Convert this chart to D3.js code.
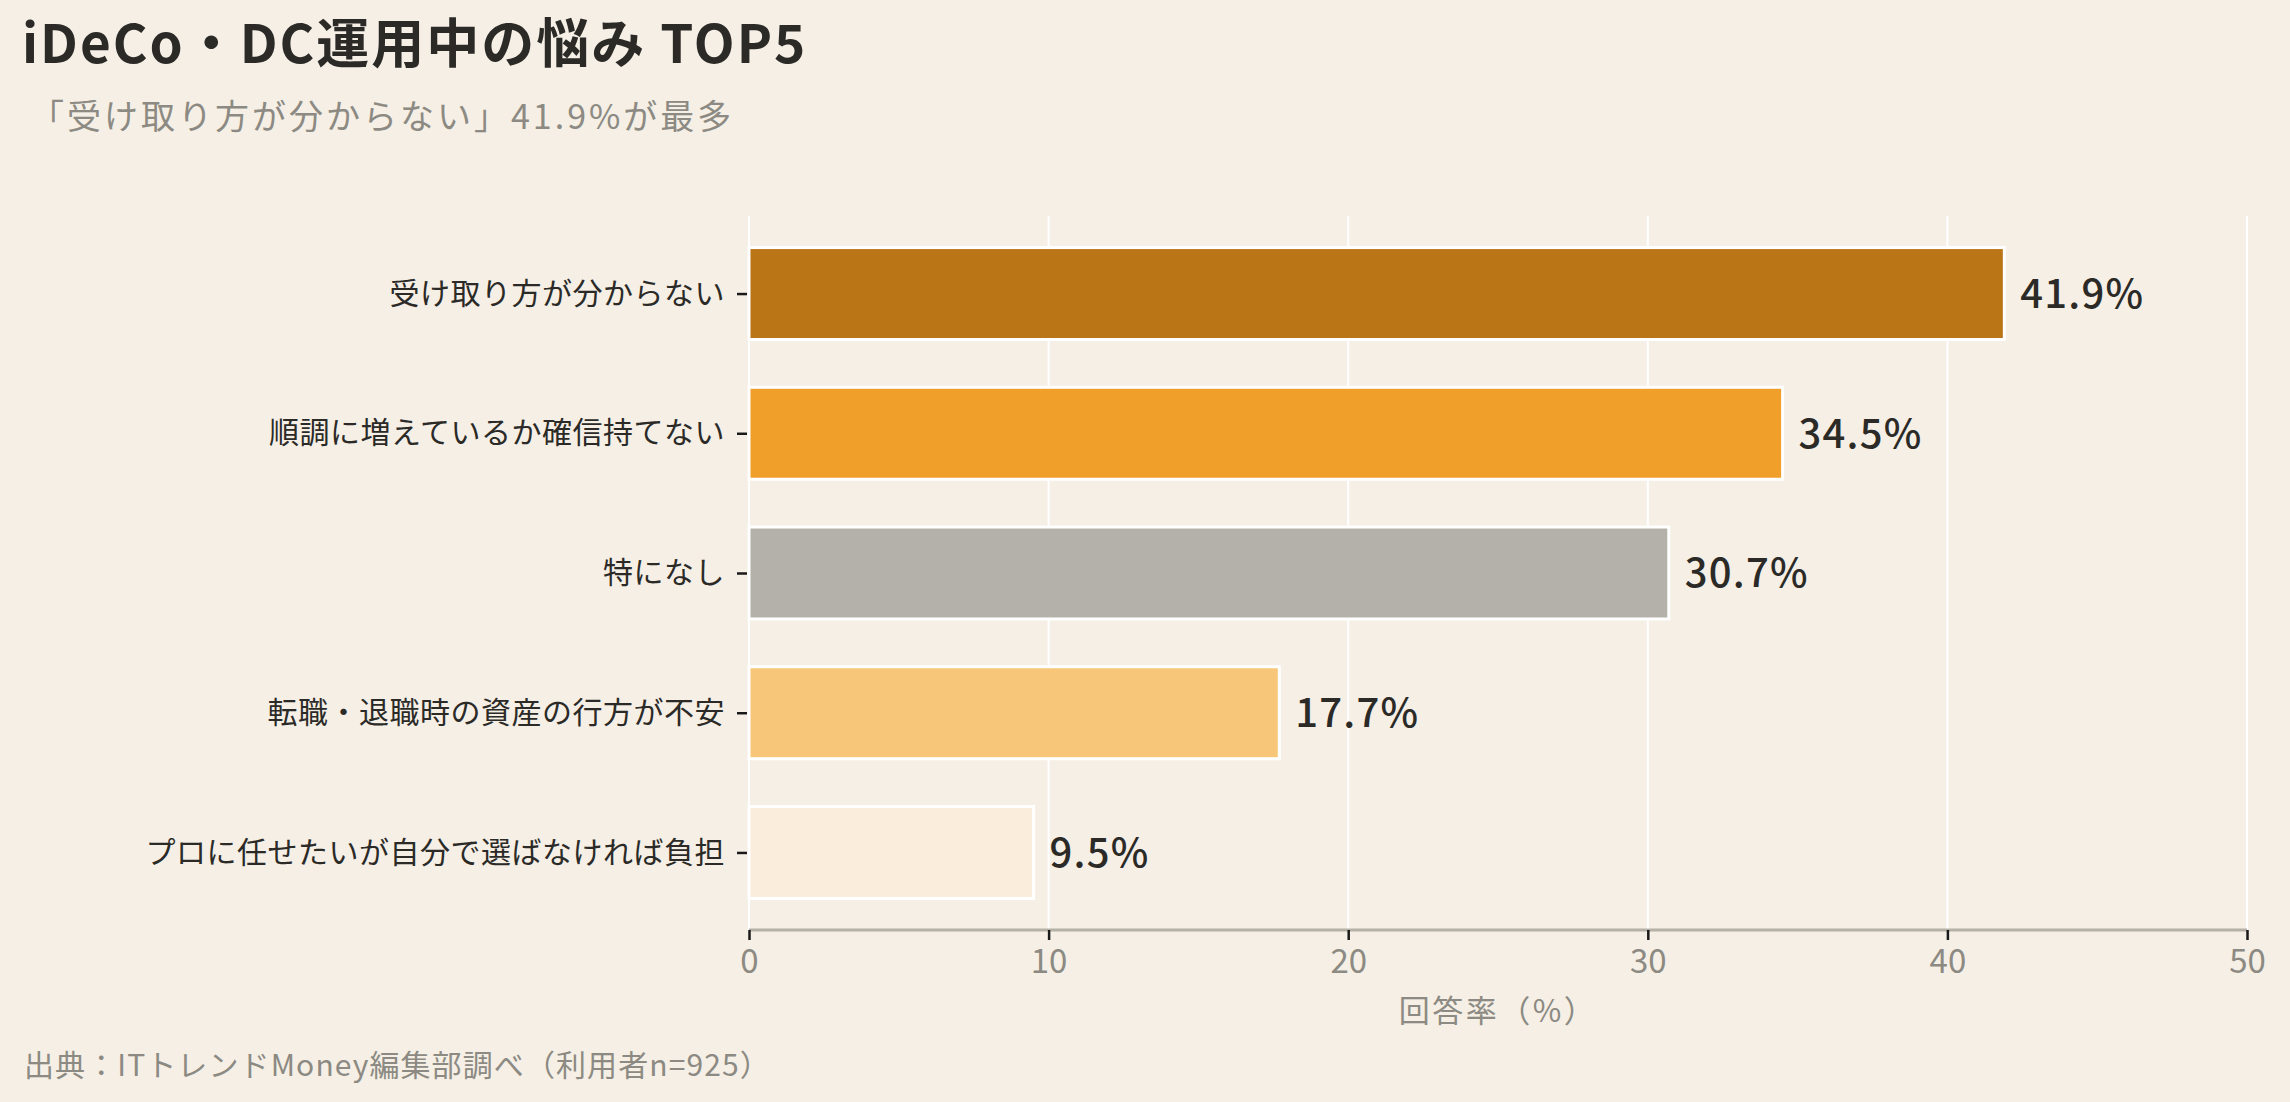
<!DOCTYPE html>
<html>
<head>
<meta charset="utf-8">
<script src="https://cdn.jsdelivr.net/npm/d3@7"></script>
<style>
  body { margin: 0; background: #F5EFE6; }
  svg { display: block; font-family: "Noto Sans CJK JP", "Noto Sans", sans-serif; }
</style>
</head>
<body>
<div id="chart"></div>
<script>
const SVG_WIDTH = 2290;
const SVG_HEIGHT = 1102;
const PANEL = { left: 749, right: 2247, top: 216, bottom: 930 };

const TITLE = "iDeCo・DC運用中の悩み TOP5";
const SUBTITLE = "「受け取り方が分からない」41.9%が最多";
const CAPTION = "出典：ITトレンドMoney編集部調べ（利用者n=925）";
const X_AXIS_LABEL = "回答率（%）";

const categories = [
    "受け取り方が分からない",
    "順調に増えているか確信持てない",
    "特になし",
    "転職・退職時の資産の行方が不安",
    "プロに任せたいが自分で選ばなければ負担"
];
const values = [41.9, 34.5, 30.7, 17.7, 9.5];
const barColors = ["#B97516", "#EF9F2A", "#B4B1AA", "#F8C679", "#FAEDDB"];
const xTicks = [0, 10, 20, 30, 40, 50];

const data = categories.map((c, i) => ({ category: c, value: values[i], color: barColors[i] }));

const svg = d3.select("#chart")
    .append("svg")
    .attr("width", SVG_WIDTH)
    .attr("height", SVG_HEIGHT);

svg.append("rect")
    .attr("width", SVG_WIDTH)
    .attr("height", SVG_HEIGHT)
    .attr("fill", "#F5EFE6");

const xScale = d3.scaleLinear()
    .domain([0, 50])
    .range([PANEL.left, PANEL.right]);

const yScale = d3.scalePoint()
    .domain(categories)
    .range([PANEL.top, PANEL.bottom])
    .padding(0.555);

const barHeight = yScale.step() * 0.658;

// vertical grid lines
svg.append("g")
    .selectAll("line")
    .data(xTicks)
    .join("line")
    .attr("x1", d => xScale(d))
    .attr("x2", d => xScale(d))
    .attr("y1", PANEL.top)
    .attr("y2", PANEL.bottom)
    .attr("stroke", "#FFFFFF")
    .attr("stroke-width", 2);

// bars
svg.append("g")
    .selectAll("rect")
    .data(data)
    .join("rect")
    .attr("x", xScale(0))
    .attr("y", d => yScale(d.category) - barHeight / 2)
    .attr("width", d => xScale(d.value) - xScale(0))
    .attr("height", barHeight)
    .attr("fill", d => d.color)
    .attr("stroke", "#FFFFFF")
    .attr("stroke-width", 3);

// value labels
svg.append("g")
    .selectAll("text")
    .data(data)
    .join("text")
    .attr("x", d => xScale(d.value) + 16)
    .attr("y", d => yScale(d.category))
    .attr("dy", "0.36em")
    .attr("fill", "#2B2A27")
    .attr("font-size", 40)
    .attr("font-weight", 500)
    .attr("letter-spacing", 1.2)
    .text(d => d.value.toFixed(1) + "%");

// x axis
const xAxis = d3.axisBottom(xScale)
    .tickValues(xTicks)
    .tickSize(10)
    .tickPadding(10);

const xg = svg.append("g")
    .attr("transform", `translate(0,${PANEL.bottom})`)
    .call(xAxis);
xg.select(".domain")
    .attr("stroke", "#B5B1A6")
    .attr("stroke-width", 3)
    .attr("d", `M${PANEL.left},0H${PANEL.right}`);
xg.selectAll(".tick line")
    .attr("stroke", "#1A1A1A")
    .attr("stroke-width", 2.5);
xg.selectAll(".tick text")
    .attr("fill", "#8C8A82")
    .attr("font-size", 33)
    .attr("font-family", "\"Noto Sans CJK JP\", sans-serif");

// y axis
const yAxis = d3.axisLeft(yScale)
    .tickSize(10)
    .tickPadding(12);

const yg = svg.append("g")
    .attr("transform", `translate(${PANEL.left - 2},0)`)
    .call(yAxis);
yg.select(".domain").remove();
yg.selectAll(".tick line")
    .attr("stroke", "#1A1A1A")
    .attr("stroke-width", 2.5);
yg.selectAll(".tick text")
    .attr("fill", "#2B2A27")
    .attr("font-size", 30)
    .attr("letter-spacing", 0.5)
    .attr("font-family", "\"Noto Sans CJK JP\", sans-serif");

// axis title
svg.append("text")
    .attr("x", (PANEL.left + PANEL.right) / 2)
    .attr("y", 1022)
    .attr("text-anchor", "middle")
    .attr("fill", "#8C8A82")
    .attr("font-size", 31)
    .attr("letter-spacing", 2.5)
    .text(X_AXIS_LABEL);

// title, subtitle, caption
svg.append("text")
    .attr("x", 22)
    .attr("y", 63)
    .attr("fill", "#2B2A27")
    .attr("font-size", 53)
    .attr("font-weight", 700)
    .attr("letter-spacing", 2)
    .text(TITLE);

svg.append("text")
    .attr("x", 30)
    .attr("y", 129)
    .attr("fill", "#8C8A82")
    .attr("font-size", 34)
    .attr("letter-spacing", 3)
    .text(SUBTITLE);

svg.append("text")
    .attr("x", 24)
    .attr("y", 1076)
    .attr("fill", "#8C8A82")
    .attr("font-size", 30)
    .attr("letter-spacing", 1.1)
    .text(CAPTION);
</script>
</body>
</html>
